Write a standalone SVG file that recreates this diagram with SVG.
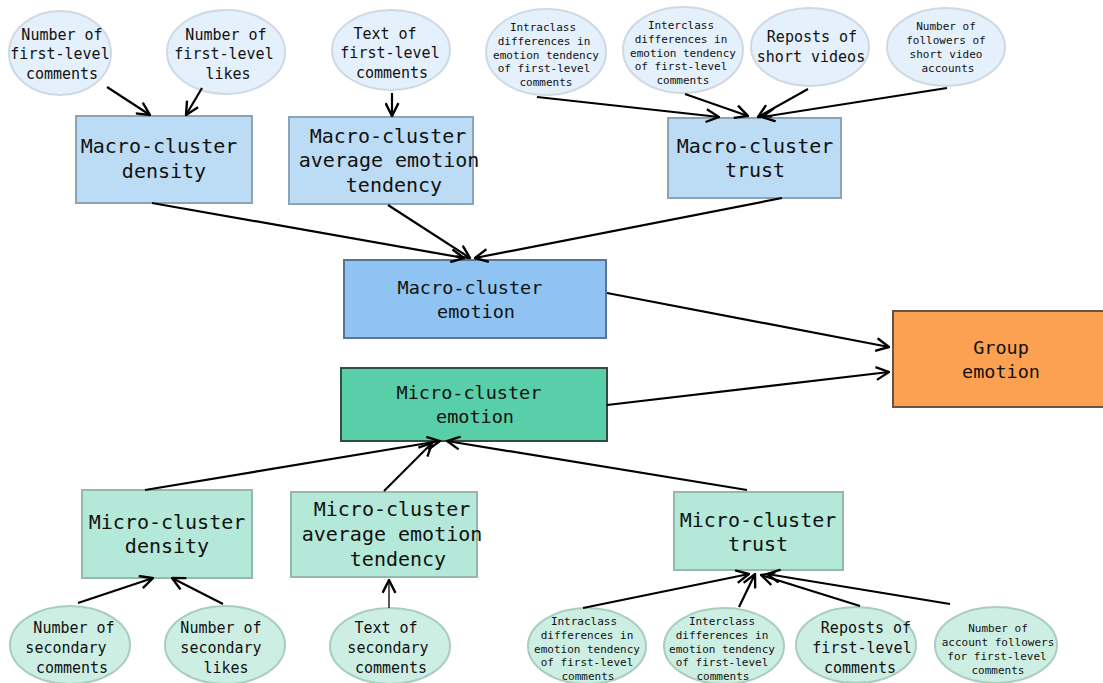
<svg xmlns="http://www.w3.org/2000/svg" width="1103" height="683" viewBox="0 0 1103 683">
<defs>
<marker id="arr" markerUnits="userSpaceOnUse" viewBox="0 0 14 14" refX="13" refY="7" markerWidth="15" markerHeight="15" orient="auto">
<path d="M1,1 L13,7 L1,13" fill="none" stroke="#000" stroke-width="2.2"/>
</marker>
</defs>
<style>
text{font-family:"DejaVu Sans Mono","Liberation Mono",monospace;fill:#111;text-anchor:middle}
.t20{font-size:20px}
.t18{font-size:18.5px}
.t15{font-size:15px}
.t10{font-size:11px}
.elT{fill:#e4f0fb;stroke:#cfd9e3;stroke-width:2}
.elB{fill:#cdefe3;stroke:#a9cdbf;stroke-width:2}
.bxT{fill:#bcdcf6;stroke:#8da3b6;stroke-width:2}
.bxB{fill:#b4e8d8;stroke:#97b8ac;stroke-width:2}
.edge{fill:none;stroke:#000;stroke-width:2.2;marker-end:url(#arr)}
</style>
<rect width="1103" height="683" fill="#fff"/>

<g id="e1"><ellipse class="elT" cx="60" cy="53" rx="51" ry="42"/>
<text class="t15" x="62" y="40">Number of</text><text class="t15" x="60" y="59">first-level</text><text class="t15" x="62" y="79">comments</text></g>
<g id="e2"><ellipse class="elT" cx="226" cy="52" rx="59" ry="42"/>
<text class="t15" x="226" y="40">Number of</text><text class="t15" x="224" y="59">first-level</text><text class="t15" x="228" y="79">likes</text></g>
<g id="e3"><ellipse class="elT" cx="391" cy="50" rx="59" ry="40"/>
<text class="t15" x="385" y="39">Text of</text><text class="t15" x="390" y="58">first-level</text><text class="t15" x="392" y="78">comments</text></g>
<g id="e4"><ellipse class="elT" cx="546" cy="52" rx="60" ry="43"/>
<text class="t10" x="543" y="31">Intraclass</text><text class="t10" x="544" y="45">differences in</text><text class="t10" x="546" y="59">emotion tendency</text><text class="t10" x="544" y="72">of first-level</text><text class="t10" x="546" y="86">comments</text></g>
<g id="e5"><ellipse class="elT" cx="683" cy="50" rx="60" ry="43"/>
<text class="t10" x="681" y="29">Interclass</text><text class="t10" x="681" y="43">differences in</text><text class="t10" x="683" y="57">emotion tendency</text><text class="t10" x="681" y="70">of first-level</text><text class="t10" x="683" y="84">comments</text></g>
<g id="e6"><ellipse class="elT" cx="810" cy="47" rx="59" ry="39"/>
<text class="t15" x="812" y="42">Reposts of</text><text class="t15" x="811" y="62">short videos</text></g>
<g id="e7"><ellipse class="elT" cx="946" cy="47" rx="59" ry="39"/>
<text class="t10" x="946" y="30">Number of</text><text class="t10" x="946" y="44">followers of</text><text class="t10" x="946" y="58">short video</text><text class="t10" x="948" y="72">accounts</text></g>

<g id="b1"><rect class="bxT" x="76" y="116" width="176" height="87"/>
<text class="t20" x="159" y="153">Macro-cluster</text><text class="t20" x="164" y="178">density</text></g>
<g id="b2"><rect class="bxT" x="289" y="117" width="184" height="87"/>
<text class="t20" x="388" y="143">Macro-cluster</text><text class="t20" x="389" y="167">average emotion</text><text class="t20" x="394" y="192">tendency</text></g>
<g id="b3"><rect class="bxT" x="668" y="118" width="173" height="80"/>
<text class="t20" x="755" y="153">Macro-cluster</text><text class="t20" x="755" y="177">trust</text></g>

<g id="b4"><rect x="344" y="260" width="262" height="78" fill="#8fc3f1" stroke="#5b7590" stroke-width="2"/>
<text class="t18" x="470" y="294">Macro-cluster</text><text class="t18" x="476" y="318">emotion</text></g>
<g id="b5"><rect x="341" y="368" width="266" height="73" fill="#58cfa9" stroke="#2f4d43" stroke-width="2"/>
<text class="t18" x="469" y="399">Micro-cluster</text><text class="t18" x="475" y="423">emotion</text></g>
<g id="b6"><rect x="893" y="311" width="212" height="96" fill="#fca152" stroke="#6a5344" stroke-width="2"/>
<text class="t18" x="1001" y="354">Group</text><text class="t18" x="1001" y="378">emotion</text></g>

<g id="b7"><rect class="bxB" x="82" y="490" width="170" height="88"/>
<text class="t20" x="167" y="529">Micro-cluster</text><text class="t20" x="167" y="553">density</text></g>
<g id="b8"><rect class="bxB" x="291" y="492" width="186" height="85"/>
<text class="t20" x="392" y="516">Micro-cluster</text><text class="t20" x="392" y="541">average emotion</text><text class="t20" x="398" y="566">tendency</text></g>
<g id="b9"><rect class="bxB" x="674" y="492" width="169" height="78"/>
<text class="t20" x="758" y="527">Micro-cluster</text><text class="t20" x="758" y="551">trust</text></g>

<g id="f1"><ellipse class="elB" cx="70" cy="645" rx="60" ry="39"/>
<text class="t15" x="74" y="633">Number of</text><text class="t15" x="66" y="653">secondary</text><text class="t15" x="72" y="673">comments</text></g>
<g id="f2"><ellipse class="elB" cx="225" cy="645" rx="60" ry="39"/>
<text class="t15" x="221" y="633">Number of</text><text class="t15" x="221" y="653">secondary</text><text class="t15" x="226" y="673">likes</text></g>
<g id="f3"><ellipse class="elB" cx="390" cy="646" rx="60" ry="38"/>
<text class="t15" x="386" y="633">Text of</text><text class="t15" x="388" y="653">secondary</text><text class="t15" x="391" y="673">comments</text></g>
<g id="f4"><ellipse class="elB" cx="587" cy="646" rx="59" ry="38"/>
<text class="t10" x="584" y="625">Intraclass</text><text class="t10" x="587" y="639">differences in</text><text class="t10" x="587" y="653">emotion tendency</text><text class="t10" x="587" y="666">of first-level</text><text class="t10" x="588" y="680">comments</text></g>
<g id="f5"><ellipse class="elB" cx="724" cy="646" rx="60" ry="38"/>
<text class="t10" x="722" y="625">Interclass</text><text class="t10" x="722" y="639">differences in</text><text class="t10" x="722" y="653">emotion tendency</text><text class="t10" x="722" y="666">of first-level</text><text class="t10" x="723" y="680">comments</text></g>
<g id="f6"><ellipse class="elB" cx="856" cy="645" rx="60" ry="38"/>
<text class="t15" x="866" y="633">Reposts of</text><text class="t15" x="862" y="653">first-level</text><text class="t15" x="860" y="673">comments</text></g>
<g id="f7"><ellipse class="elB" cx="996" cy="645" rx="61" ry="38"/>
<text class="t10" x="998" y="632">Number of</text><text class="t10" x="998" y="646">account followers</text><text class="t10" x="997" y="660">for first-level</text><text class="t10" x="998" y="674">comments</text></g>

<g id="connectors">
<path class="edge" d="M107,87 L150,115"/>
<path class="edge" d="M202,88 L186,115"/>
<path class="edge" d="M392,93 L392,116"/>
<path class="edge" d="M537,97 L719,117"/>
<path class="edge" d="M685,94 L748,116"/>
<path class="edge" d="M808,89 L758,117"/>
<path class="edge" d="M947,88 L762,117"/>
<path class="edge" d="M152,203 L464,258"/>
<path class="edge" d="M388,205 L470,258"/>
<path class="edge" d="M782,198 L475,258"/>
<path class="edge" d="M607,293 L889,347"/>
<path class="edge" d="M607,405 L889,372"/>
<path class="edge" d="M145,490 L440,441"/>
<path class="edge" d="M384,491 L432,443"/>
<path class="edge" d="M747,490 L447,441"/>
<path class="edge" d="M78,603 L153,578"/>
<path class="edge" d="M223,604 L172,578"/>
<path style="fill:none;stroke:#444;stroke-width:1.8;marker-end:url(#arr)" d="M389,608 L389,580"/>
<path class="edge" d="M583,608 L749,574"/>
<path class="edge" d="M739,607 L755,574"/>
<path class="edge" d="M860,606 L761,575"/>
<path class="edge" d="M950,604 L767,574"/>
</g>
</svg>
